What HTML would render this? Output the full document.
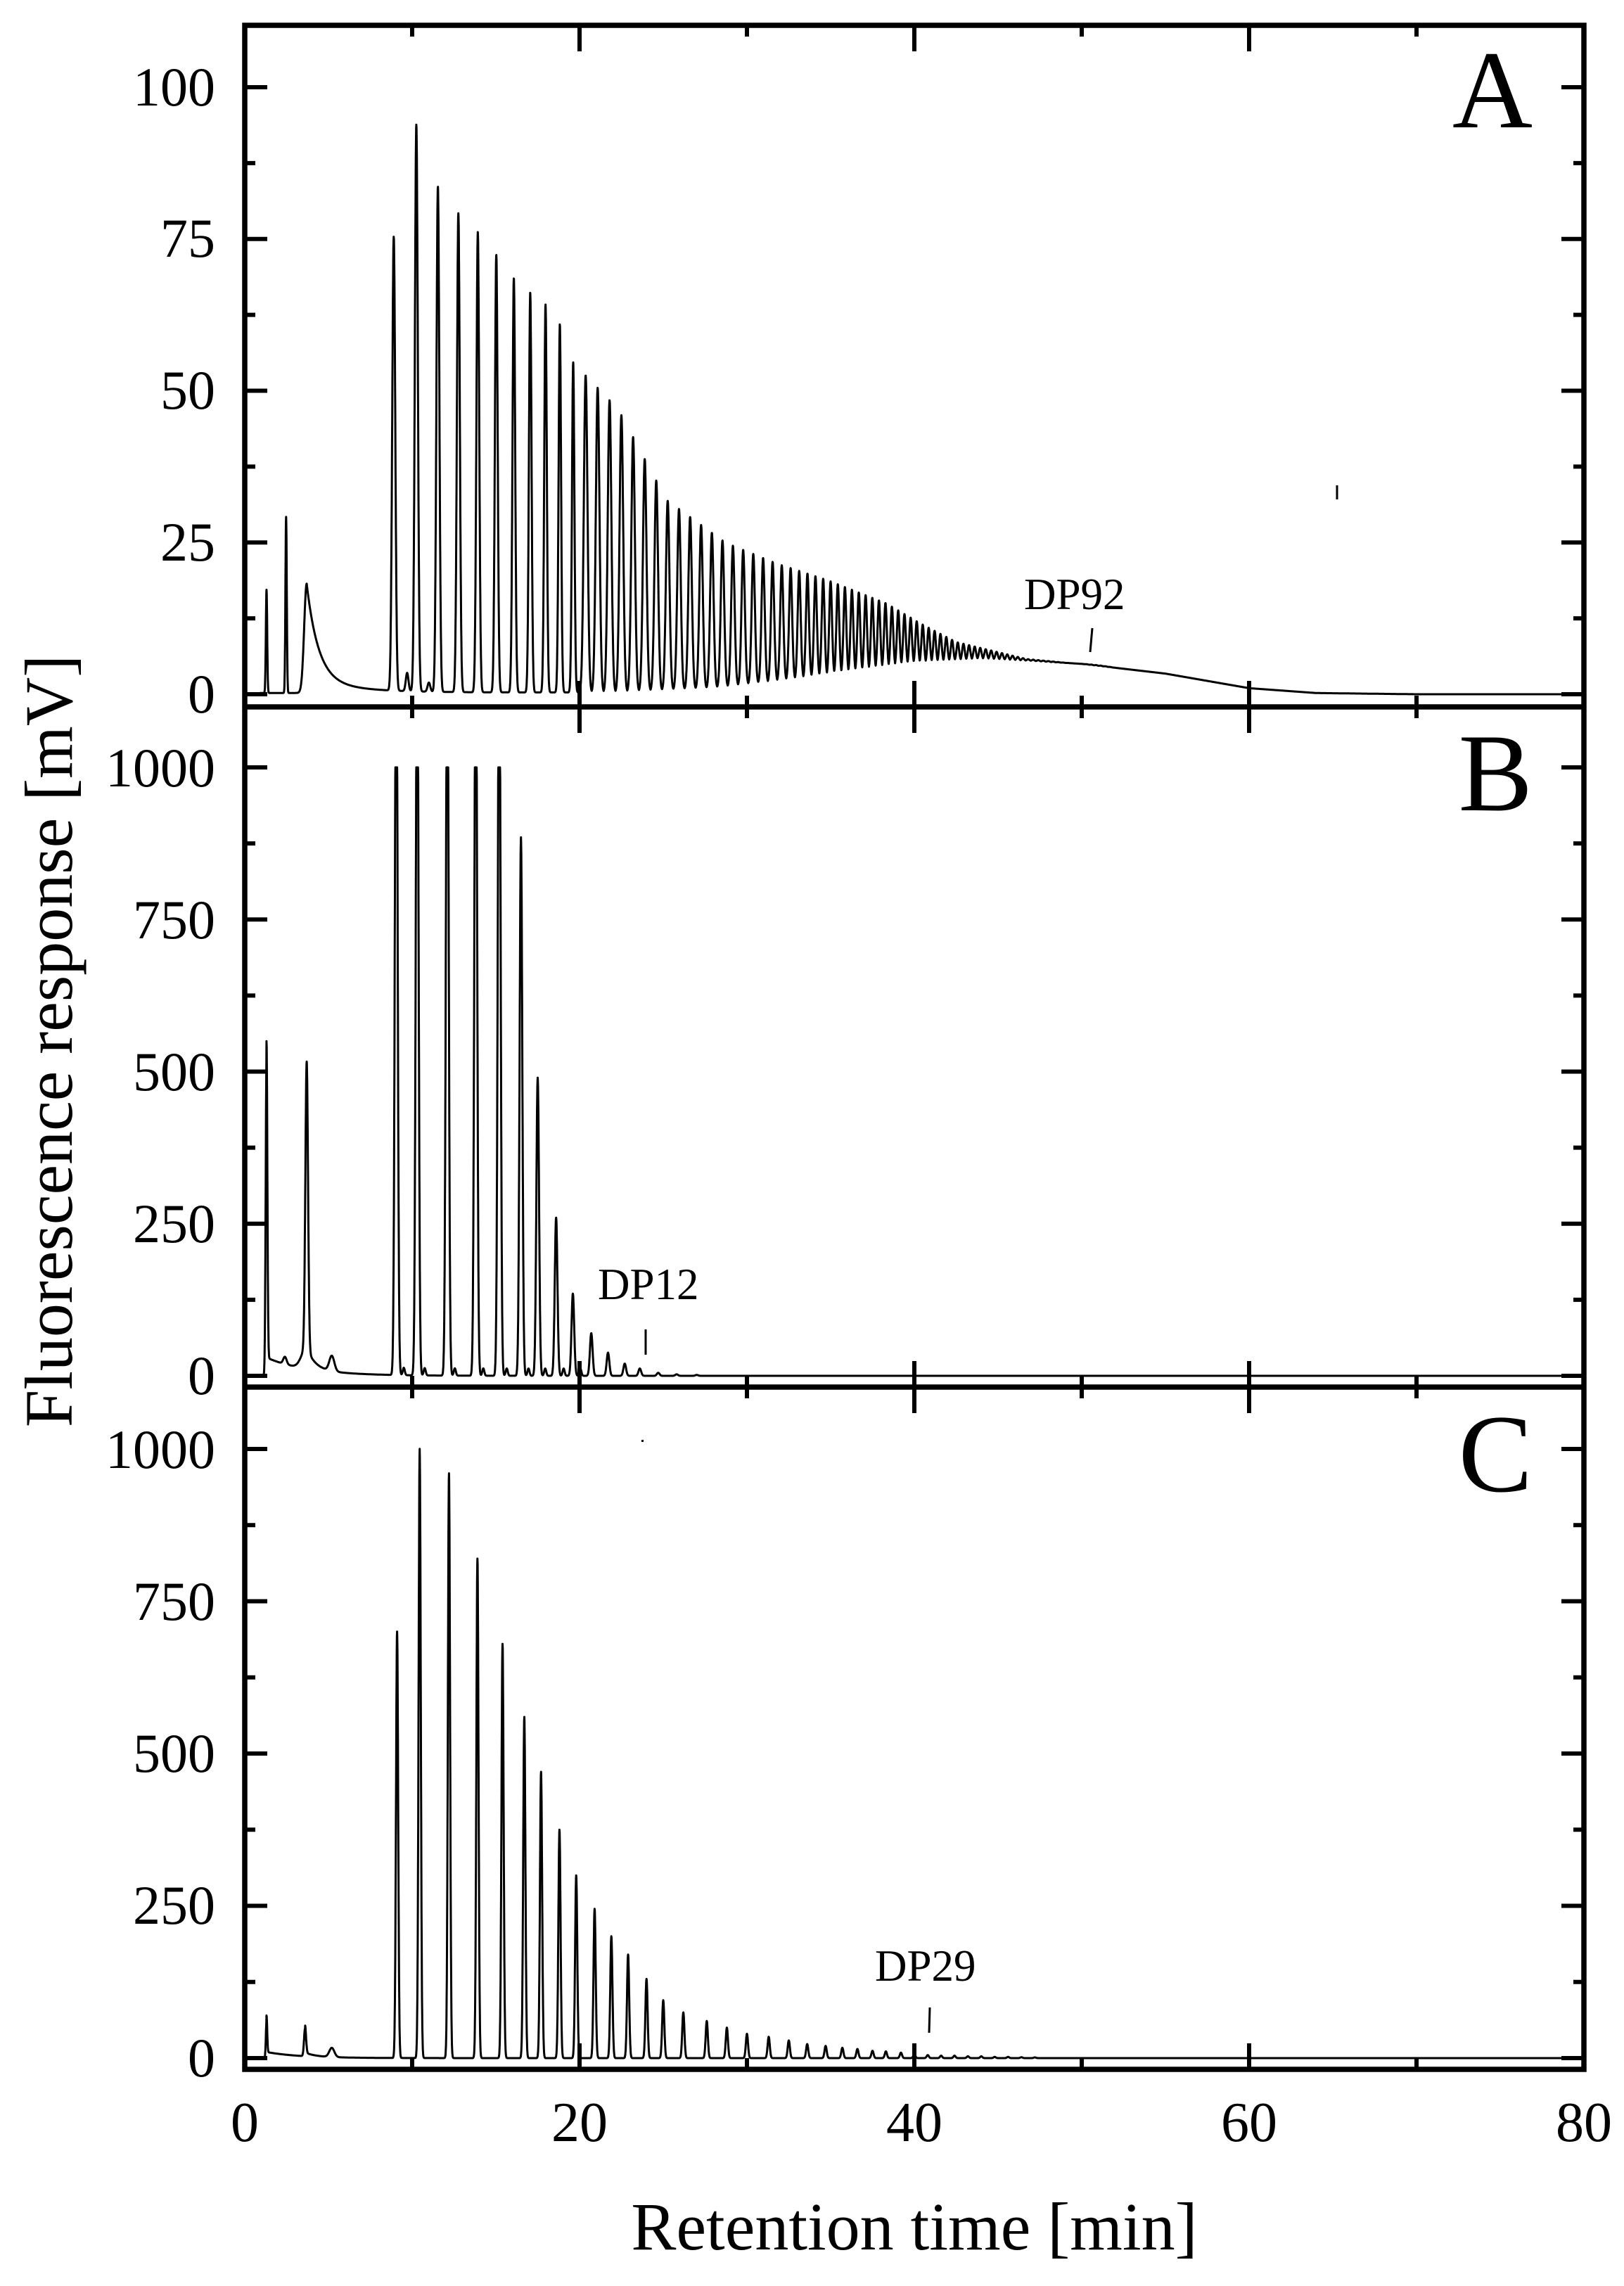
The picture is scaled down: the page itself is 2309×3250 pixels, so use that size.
<!DOCTYPE html>
<html><head><meta charset="utf-8"><style>
html,body{margin:0;padding:0;background:#fff}
svg{display:block}
text{font-family:"Liberation Serif","Times New Roman",serif;fill:#000}
</style></head><body>
<svg id="s" width="2309" height="3250" viewBox="0 0 2309 3250" xmlns="http://www.w3.org/2000/svg">
<defs>
<clipPath id="cA"><rect x="352" y="39" width="1897" height="962"/></clipPath>
<clipPath id="cB"><rect x="352" y="1009" width="1897" height="959"/></clipPath>
<clipPath id="cC"><rect x="352" y="1976" width="1897" height="962"/></clipPath>
</defs>
<g id="ticks" stroke="#000" fill="none"></g>
<path id="pA" clip-path="url(#cA)" fill="none" stroke="#000" stroke-width="3" stroke-linejoin="round"/>
<path id="pB" clip-path="url(#cB)" fill="none" stroke="#000" stroke-width="3" stroke-linejoin="round"/>
<path id="pC" clip-path="url(#cC)" fill="none" stroke="#000" stroke-width="3" stroke-linejoin="round"/>
<g fill="none" stroke="#000" stroke-width="7.5">
<rect x="348" y="36" width="1904" height="2906"/>
<line x1="348" y1="1005" x2="2252" y2="1005"/>
<line x1="348" y1="1972" x2="2252" y2="1972"/>
</g>
<g stroke="#000" stroke-width="3">
<line x1="1553" y1="893" x2="1550" y2="927"/>
<line x1="1901" y1="690" x2="1901" y2="710"/>
<line x1="918" y1="1890" x2="918" y2="1926"/>
<line x1="1322" y1="2854" x2="1321" y2="2890"/>
</g>
<rect x="912" y="2047" width="3" height="3" fill="#000"/>
<g font-size="78" text-anchor="end">
<text x="306" y="150">100</text><text x="306" y="365">75</text><text x="306" y="581">50</text><text x="306" y="797">25</text><text x="306" y="1013">0</text>
<text x="306" y="1118">1000</text><text x="306" y="1334">750</text><text x="306" y="1550">500</text><text x="306" y="1766">250</text><text x="306" y="1982">0</text>
<text x="306" y="2087">1000</text><text x="306" y="2303">750</text><text x="306" y="2519">500</text><text x="306" y="2735">250</text><text x="306" y="2952">0</text>
</g>
<g font-size="80" text-anchor="middle">
<text x="348" y="3044">0</text><text x="824" y="3044">20</text><text x="1300" y="3044">40</text><text x="1776" y="3044">60</text><text x="2252" y="3044">80</text>
</g>
<g font-size="63">
<text x="1456" y="866">DP92</text>
<text x="850" y="1847">DP12</text>
<text x="1244" y="2816">DP29</text>
</g>
<g font-size="158" text-anchor="end">
<text x="2179" y="181">A</text>
<text x="2179" y="1152">B</text>
<text x="2179" y="2120">C</text>
</g>
<text x="1300" y="3198" font-size="96" text-anchor="middle">Retention time [min]</text>
<text transform="translate(102,1480) rotate(-90)" font-size="96" text-anchor="middle">Fluorescence response [mV]</text>
</svg>
<script>
(function(){
var X=function(t){return 348+23.8*t;};
function g(t,c,h,s){var d=t-c;return h*Math.exp(-d*d/(2*s*s));}
function interp(pts,t){if(t<=pts[0][0])return pts[0][1];for(var i=1;i<pts.length;i++){if(t<=pts[i][0]){var a=pts[i-1],b=pts[i];return a[1]+(b[1]-a[1])*(t-a[0])/(b[0]-a[0]);}}return pts[pts.length-1][1];}
var tk=document.getElementById('ticks'),h='';
function L(x1,y1,x2,y2,w){h+='<line x1="'+x1+'" y1="'+y1+'" x2="'+x2+'" y2="'+y2+'" stroke-width="'+w+'"/>';}
var panels=[[36,1005,987,8.63,12.5,112.5],[1005,1972,1956,0.865,125,1125],[1972,2942,2926,0.866,125,1125]];
panels.forEach(function(p){
 for(var v=0,i=0;v<=p[5];v+=p[4],i++){var y=p[2]-p[3]*v;if(y<p[0]+6)continue;var len=(i%2==0)?32:15;L(348,y,348+len,y,6);L(2252,y,2252-len,y,6);}
 for(var t=10;t<80;t+=10){var maj=(t%20==0);var len=maj?37:16;L(X(t),p[1],X(t),p[1]-len,6);L(X(t),p[0],X(t),p[0]+len,6);}
});
tk.innerHTML=h;
function build(fn,y0,k,clip){var d='';for(var t=0.9;t<=80;t+=0.01){var v=fn(t);if(clip&&v>clip)v=clip;var y=y0-k*v;d+=(d?'L':'M')+X(t).toFixed(1)+' '+y.toFixed(1);}return d;}
var sp=[[9,1.35],[15,1.05],[20,0.72],[25,0.68],[30,0.6],[35,0.43],[40,0.36],[50,0.28],[60,0.25]];
var Hp=[[8.9,75],[10.2,94],[11.6,83],[13.1,78],[14.4,75],[15.6,70],[16.6,67],[17.7,65],[18.7,62],[19.5,55],[22.3,47],[25.2,32],[28.7,25],[31.8,21.5],[34.8,18.8],[38.3,15],[40.4,11.6],[42.5,8.6],[46.7,5.8],[49,5.2],[50,5]];
var Vp=[[0,0.2],[22,0.3],[28,1],[33,2.5],[36,3.5],[40,5],[44,5.8],[47,5.5],[50,5],[55,3.4],[60,1],[64,0.2],[70,0]];
var pk=[];var t=8.9;while(t<52){pk.push(t);t+=interp(sp,t);}
function fA(t){var v=g(t,1.3,17,0.04)+g(t,2.47,29,0.04)+g(t,9.7,3,0.08)+g(t,11,1.5,0.08);
 if(t<3.7)v+=g(t,3.7,18,0.15);else v+=16*Math.exp(-(t-3.7)/0.7)+2*Math.exp(-(t-3.7)/3);
 var V=interp(Vp,t);var best=1e9,bp=0;for(var i=0;i<pk.length;i++){var d=Math.abs(t-pk[i]);if(d<best){best=d;bp=pk[i];}}
 var amp=interp(Hp,bp)-interp(Vp,bp);if(bp>48)amp*=Math.max(0,(52-bp)/4);if(amp<0)amp=0;
 var s=0.045+0.09*interp(sp,bp);if(bp<20)s=0.05+0.03*interp(sp,bp);v+=V+amp*Math.exp(-best*best/(2*s*s));return v;}
document.getElementById('pA').setAttribute('d',build(fA,987,8.63));
var PB=[[9.05,1300],[10.3,1300],[12.1,1300],[13.8,1300],[15.2,1300],[16.5,885],[17.5,490],[18.6,260],[19.6,135],[20.7,70],[21.7,38],[22.7,20],[23.6,12],[24.7,5],[25.8,2.5],[27,1.5]];
function fB(t){var v=g(t,1.3,520,0.05)+(t>1.3?30*Math.exp(-(t-1.3)/2.5):0)+g(t,2.4,12,0.1)+g(t,3.7,470,0.08)+(t>3.7?35*Math.exp(-(t-3.7)/0.5):g(t,3.7,35,0.3))+g(t,5.2,25,0.15);
 for(var i=0;i<PB.length;i++){v+=g(t,PB[i][0],PB[i][1],0.08);if(i<9)v+=g(t,PB[i][0]+0.45,12,0.06);}
 return v;}
document.getElementById('pB').setAttribute('d',build(fB,1956,0.865,1000));
var PC=[[9.1,700],[10.45,1000],[12.2,960],[13.9,820],[15.4,680],[16.7,560],[17.7,470],[18.8,375],[19.8,300],[20.9,245],[21.9,200],[22.9,170],[24.0,130],[25.0,95],[26.2,75],[27.6,61],[28.8,50],[30.0,40],[31.3,35],[32.5,29],[33.6,23],[34.7,20],[35.7,17],[36.6,15],[37.5,12],[38.3,11],[39.2,9],[40.0,6],[40.8,5],[41.6,4],[42.4,4],[43.2,3],[44.0,3],[44.8,2],[45.6,2],[46.4,1.5],[47.2,1.2]];
function fC(t){var v=g(t,1.3,60,0.04)+(t>1.3?10*Math.exp(-(t-1.3)/2):0)+g(t,3.6,45,0.06)+(t>3.6?6*Math.exp(-(t-3.6)/0.6):0)+g(t,5.2,15,0.15);
 for(var i=0;i<PC.length;i++){v+=g(t,PC[i][0],PC[i][1],0.065);}
 return v;}
document.getElementById('pC').setAttribute('d',build(fC,2926,0.866));
})();
</script>
</body></html>
